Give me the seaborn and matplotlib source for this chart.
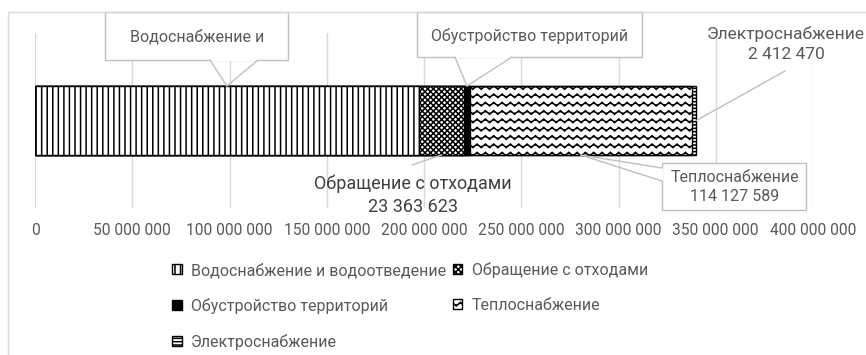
import numpy as np
import pandas as pd
import matplotlib
matplotlib.use("Agg")
import matplotlib.pyplot as plt
import matplotlib.hatch as mhatch
import seaborn as sns
from matplotlib.path import Path
from matplotlib.patches import Patch, Rectangle
from matplotlib.lines import Line2D

# данные
categories = ["Водоснабжение и водоотведение", "Обращение с отходами",
              "Обустройство территорий", "Теплоснабжение", "Электроснабжение"]
values = [197300000, 23363623, 2800000, 114127589, 2412470]
xticks = [0, 50000000, 100000000, 150000000, 200000000,
          250000000, 300000000, 350000000, 400000000]
xtick_labels = ["0", "50 000 000", "100 000 000", "150 000 000", "200 000 000",
                "250 000 000", "300 000 000", "350 000 000", "400 000 000"]


# волнистая штриховка (вместо 'O')
class WaveHatch(mhatch.HatchPatternBase):
    def __init__(self, hatch, density):
        self.num_rows = hatch.count('O') * density
        self.num_pts = self.num_rows * 4 + 1
        self.num_vertices = self.num_rows * self.num_pts

    def set_vertices_and_codes(self, vertices, codes):
        t = np.linspace(0, 1, self.num_pts)
        k = 0
        for i in range(self.num_rows):
            y0 = (i + 0.5) / self.num_rows
            vertices[k:k + self.num_pts, 0] = t
            vertices[k:k + self.num_pts, 1] = y0 + 0.22 / self.num_rows * np.sin(2 * np.pi * self.num_rows * t)
            codes[k] = Path.MOVETO
            codes[k + 1:k + self.num_pts] = Path.LINETO
            k += self.num_pts


mhatch._hatch_types = [WaveHatch if c is mhatch.LargeCircles else c for c in mhatch._hatch_types]

sns.set_style("white")
plt.rcParams['font.family'] = ['Roboto', 'DejaVu Sans']
plt.rcParams['hatch.linewidth'] = 1.1

grey = "#595959"
light = "#d9d9d9"
W, H = 866, 355


def fp(x, y):
    # пиксели картинки -> доли фигуры
    return (x / W, 1 - y / H)


df = pd.DataFrame({"category": categories, "value": values})
df["cum"] = df["value"].cumsum()
df["mid"] = df["cum"] - df["value"] / 2
df["row"] = "all"

faces = ["white", "white", "black", "white", "white"]
hatches = ["|||", "xxxxxx", None, "OO", "-----"]

fig = plt.figure(figsize=(W / 100, H / 100), dpi=100)
ax = fig.add_axes([35 / W, 1 - 208 / H, (813 - 35) / W, 175 / H])

# накопленные столбцы, от большего к меньшему
for i in reversed(range(len(df))):
    sns.barplot(data=df.iloc[[i]], x="cum", y="row", orient="h", width=0.394,
                color=faces[i], saturation=1, edgecolor="black", linewidth=1,
                hatch=hatches[i], ax=ax)

ax.set_xlim(0, 400000000)
ax.set_ylim(0.5, -0.5)
ax.set_xticks(xticks)
ax.set_xticklabels(xtick_labels, color=grey, fontsize=11.2)
ax.set_yticks([])
ax.set_xlabel("")
ax.set_ylabel("")
ax.tick_params(axis="x", length=0, pad=11)
ax.set_axisbelow(True)
ax.grid(axis="x", color=light, linewidth=1)
sns.despine(ax=ax, left=True, bottom=True)

# рамка диаграммы
fig.add_artist(Line2D([8 / W, 1], [1 - 12 / H] * 2, color=light, lw=1))
fig.add_artist(Line2D([8 / W] * 2, [0, 1 - 12 / H], color=light, lw=1))

bar_top = -0.394 / 2
bar_mid = 0.0
bar_bot = 0.394 / 2


def leader(xd, yd, px, py):
    ax.annotate("", xy=(xd, yd), xycoords="data", xytext=fp(px, py),
                textcoords="figure fraction", annotation_clip=False,
                arrowprops=dict(arrowstyle="-", color="#bfbfbf", lw=1,
                                shrinkA=0, shrinkB=0), zorder=6)


def box(x0, y0, x1, y1):
    ax.add_patch(Rectangle(fp(x0, y1), (x1 - x0) / W, (y1 - y0) / H,
                           transform=fig.transFigure, clip_on=False,
                           facecolor="white", edgecolor="#bfbfbf", lw=1, zorder=5))


def cover(x0, y0, x1, y1):
    # убрать край рамки под хвостиком выноски
    ax.add_line(Line2D([x0 / W, x1 / W], [1 - y0 / H, 1 - y1 / H], transform=fig.transFigure,
                       color="white", lw=1.6, clip_on=False, zorder=5.5))


# Водоснабжение
box(105, 12, 288, 60)
cover(211, 60, 257, 60)
leader(df["mid"][0], bar_top, 210, 60)
leader(df["mid"][0], bar_top, 258, 60)
ax.text(*fp(197, 37), "Водоснабжение и", transform=fig.transFigure,
        ha="center", va="center", color=grey, fontsize=11.5, zorder=7)

# Обустройство территорий
box(417, 12, 642, 57)
cover(456, 57, 511, 57)
leader(df["mid"][2], bar_top, 455, 57)
leader(df["mid"][2], bar_top, 512, 57)
ax.text(*fp(530, 36), "Обустройство территорий", transform=fig.transFigure,
        ha="center", va="center", color=grey, fontsize=11.5, zorder=7)

# Электроснабжение
leader(df["cum"][4], bar_mid, 785, 71)
ax.text(*fp(786, 44), "Электроснабжение\n2 412 470", transform=fig.transFigure,
        ha="center", va="center", color=grey, fontsize=12.5, linespacing=1.45, zorder=7)

# Обращение с отходами
leader(df["mid"][1], bar_bot, 412, 165)
ax.text(*fp(413, 195), "Обращение с отходами\n23 363 623", transform=fig.transFigure,
        ha="center", va="center", color="#404040", fontsize=13, linespacing=1.35, zorder=7)

# Теплоснабжение
box(662, 163, 806, 210)
cover(662, 169, 662, 180)
leader(df["mid"][3], bar_bot, 662, 168)
leader(df["mid"][3], bar_bot, 662, 181)
ax.text(*fp(735, 187), "Теплоснабжение\n114 127 589", transform=fig.transFigure,
        ha="center", va="center", color=grey, fontsize=11.5, linespacing=1.35, zorder=7)

# легенда
handles = [Patch(facecolor=faces[i], edgecolor="black", hatch=hatches[i], lw=1)
           for i in range(len(categories))]
order = [0, 2, 4, 1, 3]
fig.legend([handles[i] for i in order], [categories[i] for i in order],
           ncol=2, loc="upper left", bbox_to_anchor=fp(172, 262), frameon=False,
           fontsize=11.5, labelcolor=grey, handlelength=0.6, handleheight=0.6,
           handletextpad=0.6, columnspacing=0.4, labelspacing=1.25, borderpad=0,
           borderaxespad=0)

fig.savefig("out.png", dpi=100)
